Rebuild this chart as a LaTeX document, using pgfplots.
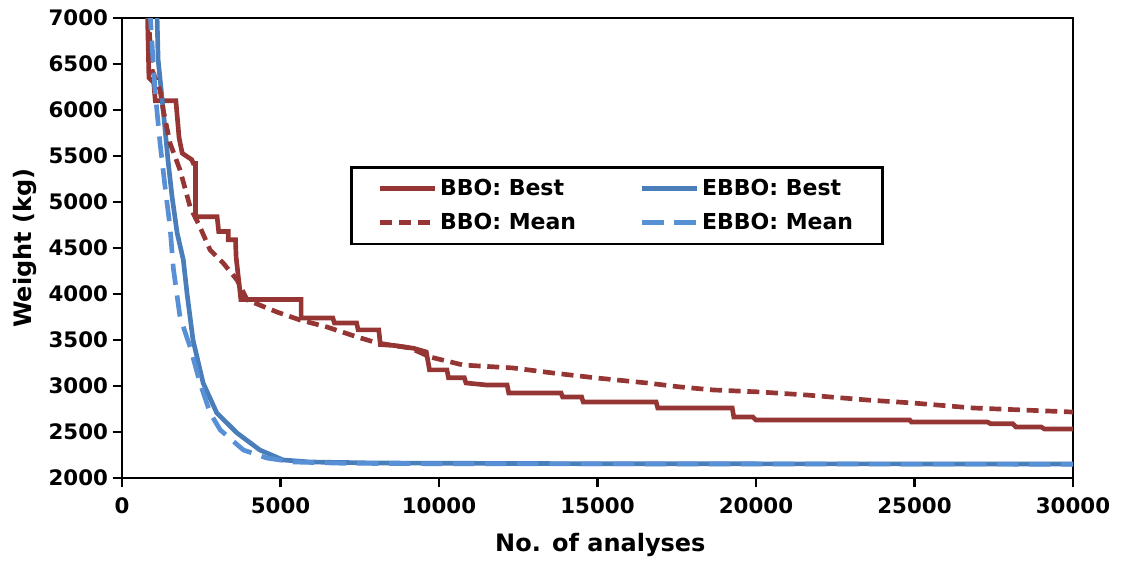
\documentclass[border=0pt]{standalone}
\usepackage{pgfplots}
\pgfplotsset{compat=1.18}
\usepackage{fontspec}
\setmainfont{DejaVu Sans}
\definecolor{bbo}{RGB}{150,54,52}
\definecolor{ebbo}{RGB}{74,126,187}
\definecolor{ebbom}{RGB}{88,144,214}
\begin{document}
\begin{tikzpicture}
\useasboundingbox (-91.5pt,-61.5pt) rectangle (750.75pt,358.5pt);
\begin{axis}[
  at={(0,0)}, anchor=south west,
  scale only axis,
  width=713.25pt, height=345pt,
  xmin=0, xmax=30000, ymin=2000, ymax=7000,
  xtick={0,5000,...,30000},
  ytick={2000,2500,...,7000},
  scaled ticks=false,
  /pgf/number format/.cd, 1000 sep={}, assume math mode=true, /pgfplots/.cd,
  tick align=outside,
  xtick pos=bottom, ytick pos=left,
  major tick length=7pt,
  tick style={black, line width=1.8pt},
  axis line style={black, line width=2.2pt},
  ticklabel style={font=\bfseries\fontsize{16}{18}\selectfont},
  xticklabel style={yshift=-4pt},
  label style={font=\bfseries\fontsize{18}{20}\selectfont},
  xlabel={No. of analyses},
  ylabel={Weight (kg)},
  xlabel style={at={(axis description cs:0.503,-0.146)}, anchor=center},
  ylabel style={at={(axis description cs:-0.102,0.5)}, anchor=center},
  legend columns=2,
  legend style={at={(axis description cs:0.24,0.678)}, anchor=north west,
    draw=black, line width=1.8pt, inner xsep=20pt, inner ysep=7pt,
    font=\bfseries\fontsize{16.5}{18}\selectfont, row sep=8pt,
    /tikz/every even column/.append style={column sep=46pt}},
  legend cell align=left,
  legend image code/.code={\draw[#1] (0pt,0pt) -- (41pt,0pt);},
]
\addplot[bbo, line width=3.5pt, sharp plot] coordinates {
(800,7100)(850,6350)(1000,6300)(1050,6100)(1700,6100)(1800,5700)(1900,5530)
(2200,5460)(2250,5420)(2320,5420)(2320,4840)(3000,4840)(3050,4680)(3350,4680)
(3350,4590)(3580,4590)(3600,4400)(3750,3940)(5650,3940)(5650,3740)(6650,3740)
(6700,3685)(7400,3685)(7450,3610)(8100,3610)(8150,3450)(8600,3440)(9200,3410)
(9600,3370)(9700,3175)(10250,3175)(10300,3090)(10800,3090)(10850,3033)
(11500,3011)(12150,3011)(12200,2924)(13850,2924)(13900,2880)(14500,2880)
(14550,2826)(16850,2826)(16900,2761)(19250,2761)(19300,2663)(19900,2663)
(20000,2630)(24850,2630)(24900,2609)(27300,2609)(27400,2590)(28100,2590)
(28200,2554)(29000,2554)(29100,2532)(30000,2532)};
\addlegendentry{BBO: Best}
\addplot[ebbo, line width=3.5pt] coordinates {
(1100,7100)(1140,6544)(1300,6000)(1450,5457)(1580,5055)(1740,4663)(1935,4370)
(2050,4011)(2240,3500)(2560,3032)(2990,2707)(3630,2489)(4350,2304)(5080,2196)
(5930,2174)(8040,2163)(15000,2155)(30000,2152)};
\addlegendentry{EBBO: Best}
\addplot[bbo, line width=3.5pt, dash pattern=on 9pt off 5pt] coordinates {
(820,7050)(950,6435)(1200,6218)(1300,6000)(1515,5640)(1830,5348)(2150,4946)
(2460,4728)(2780,4478)(3190,4337)(3630,4152)(3950,3935)(4890,3804)(5620,3717)
(6470,3641)(7420,3533)(8050,3468)(9090,3413)(9720,3315)(10760,3228)(12340,3196)
(13600,3141)(14980,3087)(16560,3033)(17600,2990)(18650,2957)(20130,2935)
(21600,2902)(23500,2848)(24950,2815)(26850,2761)(28430,2739)(30000,2717)};
\addlegendentry{BBO: Mean}
\addplot[ebbom, line width=3.5pt, dash pattern=on 16pt off 8pt] coordinates {
(880,7100)(950,6700)(1040,6220)(1200,5640)(1360,5160)(1515,4730)(1620,4280)
(1770,3900)(1830,3750)(2150,3424)(2460,3032)(2780,2707)(3100,2522)(3830,2304)
(4570,2217)(5400,2174)(7000,2160)(10000,2155)(20000,2152)(30000,2150)};
\addlegendentry{EBBO: Mean}
\end{axis}
\end{tikzpicture}
\end{document}
